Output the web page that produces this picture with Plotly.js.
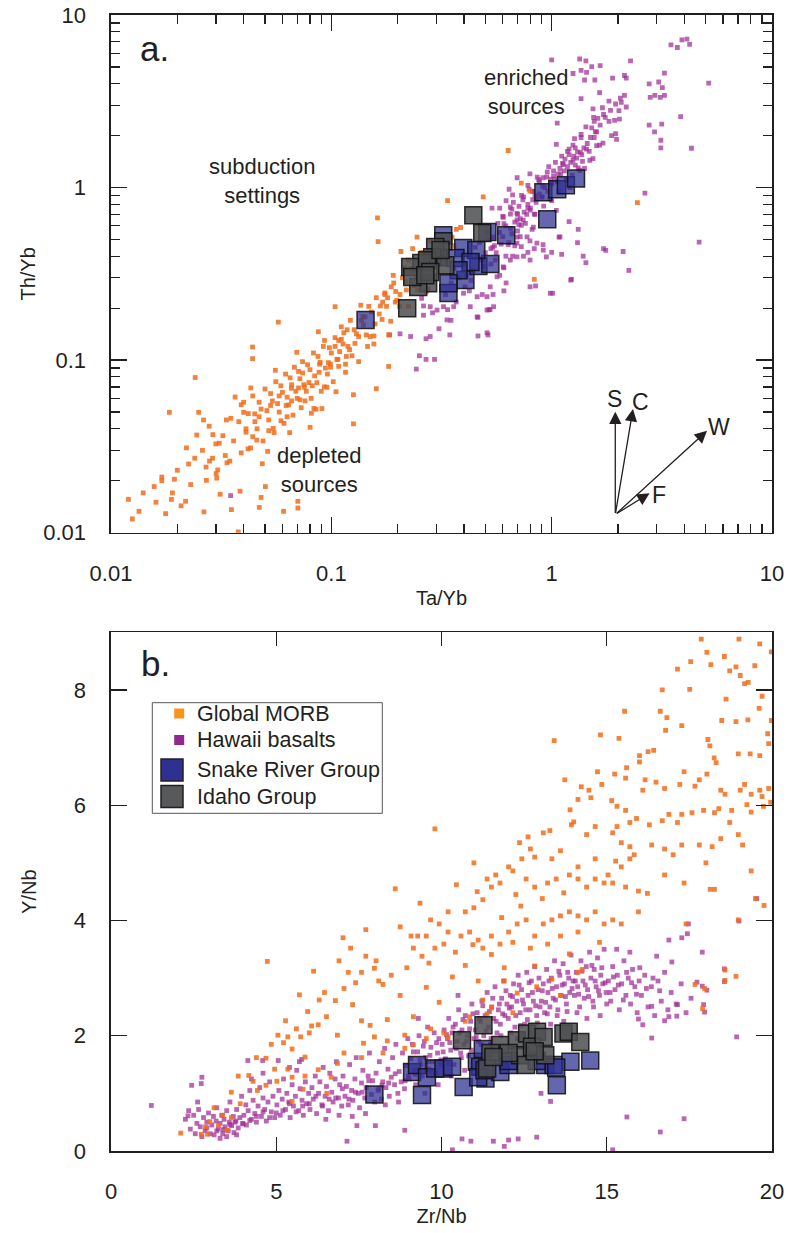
<!DOCTYPE html>
<html><head><meta charset="utf-8">
<script src="https://cdn.plot.ly/plotly-3.0.1.min.js"></script>
<style>html,body{margin:0;padding:0;background:#fff}#chart{width:788px;height:1233px}</style>
</head><body><div id="chart"></div>
<script>
// ---------- Panel a: Ta/Yb (x) vs Th/Yb (y) ----------
const morbTop = [[0.0120,0.0156],[0.0134,0.0133],[0.0157,0.0185],[0.0170,0.0200],[0.0177,0.0129],[0.0184,0.0498],[0.0188,0.0156],[0.0194,0.0204],[0.0208,0.0143],[0.0218,0.0152],[0.0225,0.0250],[0.0241,0.0793],[0.0245,0.0368],[0.0250,0.0498],[0.0263,0.0450],[0.0264,0.0132],[0.0271,0.0201],[0.0279,0.0414],[0.0289,0.0270],[0.0299,0.0327],[0.0302,0.0207],[0.0305,0.0231],[0.0313,0.0167],[0.0322,0.0365],[0.0334,0.0450],[0.0336,0.0254],[0.0346,0.0260],[0.0352,0.0136],[0.0366,0.0611],[0.0378,0.0101],[0.0385,0.0174],[0.0390,0.0551],[0.0400,0.0498],[0.0410,0.0382],[0.0419,0.0306],[0.0431,0.0690],[0.0439,0.119],[0.0439,0.102],[0.0449,0.0488],[0.0459,0.0344],[0.0471,0.0140],[0.0480,0.0160],[0.0486,0.0251],[0.0502,0.0185],[0.0514,0.0296],[0.0530,0.0546],[0.0545,0.0402],[0.0557,0.0873],[0.0575,0.166],[0.0591,0.0445],[0.0607,0.0133],[0.0624,0.0546],[0.0647,0.0380],[0.0659,0.0687],[0.0697,0.111],[0.0705,0.0152],[0.0705,0.0139],[0.0721,0.0589],[0.0741,0.0842],[0.0755,0.0697],[0.0791,0.0741],[0.0801,0.0408],[0.0812,0.0492],[0.0834,0.0524],[0.0853,0.0519],[0.0873,0.146],[0.0885,0.0947],[0.0906,0.0524],[0.0931,0.130],[0.0955,0.0697],[0.0969,0.0967],[0.0991,0.0910],[0.104,0.120],[0.104,0.204],[0.105,0.0656],[0.107,0.101],[0.108,0.130],[0.111,0.156],[0.114,0.144],[0.116,0.0947],[0.119,0.120],[0.122,0.170],[0.126,0.0630],[0.126,0.0427],[0.133,0.137],[0.136,0.208],[0.139,0.179],[0.146,0.120],[0.150,0.137],[0.156,0.124],[0.160,0.0683],[0.162,0.667],[0.163,0.486],[0.167,0.206],[0.171,0.217],[0.175,0.240],[0.182,0.140],[0.182,0.0919],[0.187,0.266],[0.191,0.310],[0.195,0.217],[0.205,0.240],[0.207,0.426],[0.214,0.343],[0.224,0.380],[0.234,0.443],[0.245,0.516],[0.257,0.421],[0.281,0.491],[0.337,0.839],[0.353,0.516],[0.369,0.572],[0.386,0.587],[0.489,0.883],[0.635,1.64],[0.728,1.06],[0.797,0.953],[0.834,0.294],[2.45,0.818],
[0.031,0.033],[0.033,0.028],[0.035,0.046],[0.036,0.034],[0.038,0.044],[0.039,0.029],[0.040,0.057],[0.041,0.040],[0.042,0.049],[0.043,0.031],[0.044,0.062],[0.045,0.044],[0.046,0.040],[0.047,0.057],[0.048,0.052],[0.049,0.034],[0.050,0.068],[0.051,0.051],[0.052,0.045],[0.053,0.064],[0.054,0.058],[0.055,0.038],[0.056,0.075],[0.057,0.056],[0.058,0.050],[0.059,0.071],[0.060,0.065],[0.061,0.043],[0.062,0.083],[0.063,0.061],[0.064,0.055],[0.065,0.079],[0.066,0.072],[0.067,0.048],[0.068,0.091],[0.069,0.066],[0.070,0.060],[0.071,0.086],[0.072,0.078],[0.073,0.053],[0.074,0.098],[0.075,0.072],[0.077,0.066],[0.078,0.094],[0.080,0.088],[0.081,0.060],[0.083,0.110],[0.084,0.081],[0.086,0.074],[0.087,0.105],[0.089,0.097],[0.090,0.066],[0.092,0.120],[0.094,0.090],[0.096,0.083],[0.098,0.118],[0.100,0.110],[0.102,0.075],[0.104,0.135],[0.106,0.101],[0.108,0.092],[0.111,0.132],[0.113,0.124],[0.116,0.085],[0.118,0.150],[0.121,0.115],[0.124,0.106],[0.127,0.150],[0.130,0.142],[0.133,0.098],[0.137,0.170],[0.140,0.160],[0.144,0.140],[0.148,0.205],[0.152,0.190],[0.156,0.138],[0.160,0.230],[0.165,0.185],[0.170,0.172],[0.175,0.245],[0.180,0.230],[0.186,0.168],[0.192,0.280],[0.198,0.222],[0.204,0.205],[0.210,0.300],[0.217,0.285],[0.224,0.205],[0.231,0.340],[0.238,0.270],[0.246,0.255],[0.254,0.370],[0.262,0.345],[0.270,0.250],[0.279,0.410],[0.288,0.330],[0.298,0.310],[0.308,0.450],[0.320,0.420],[0.332,0.370],[0.345,0.500],[0.360,0.460],[0.028,0.026],[0.029,0.037],[0.030,0.022],[0.026,0.030],[0.027,0.024],[0.024,0.027],[0.023,0.019],[0.022,0.031],[0.020,0.023],[0.019,0.017],[0.017,0.021],[0.016,0.015],[0.014,0.017],[0.0125,0.012],
[0.044,0.036],[0.047,0.047],[0.052,0.039],[0.058,0.062],[0.063,0.047],[0.066,0.058],[0.071,0.069],[0.076,0.058],[0.082,0.071],[0.088,0.085],[0.093,0.070],[0.099,0.095],[0.109,0.112],[0.117,0.105],[0.128,0.125],[0.142,0.178],[0.158,0.162],[0.178,0.205],[0.196,0.250],[0.219,0.255],[0.242,0.300],[0.267,0.300],[0.295,0.390]];

const hawTop = [[3.48,6.71],[3.90,7.18],[4.11,7.25],[4.23,6.75],[3.72,6.48],[2.28,5.42],[1.00,5.50],[1.34,5.56],[1.43,5.42],[1.36,4.77],[1.44,4.65],[1.52,5.02],[1.66,5.09],[1.25,4.58],[1.41,4.20],[1.57,4.20],[1.89,4.31],[2.14,4.46],[2.18,4.31],[3.25,4.60],[3.06,4.09],[2.77,3.99],[2.94,3.42],[3.18,3.79],[3.11,3.33],[2.80,3.33],[3.25,3.42],[5.16,4.03],[1.65,3.55],[2.14,3.42],[1.82,3.17],[2.07,3.12],[2.18,2.93],[2.02,2.79],[1.36,3.28],[1.54,2.86],[1.06,2.36],[1.56,2.42],[1.72,2.65],[1.82,2.42],[1.93,2.45],[2.03,2.49],[2.77,2.30],[3.16,2.33],[3.85,2.58],[2.93,2.10],[3.13,1.88],[3.13,1.70],[4.31,1.69],[1.36,2.03],[1.56,1.95],[1.60,2.10],[1.65,1.76],[1.71,1.81],[1.87,2.00],[1.95,2.05],[1.97,1.90],[1.05,1.78],[1.20,1.67],[1.25,1.76],[1.31,1.61],[1.37,1.55],[1.44,1.67],[1.49,1.44],[1.54,1.47],[1.09,1.29],[1.13,1.36],[1.25,1.44],[1.28,1.35],[1.34,1.26],[1.41,1.29],[1.02,1.17],[0.955,1.23],[0.914,1.14],[0.873,1.11],[1.00,1.06],[1.17,1.11],[1.21,1.00],[0.797,1.20],[0.697,1.14],[0.780,1.03],[0.815,0.953],[0.853,0.861],[0.906,0.883],[1.00,0.839],[0.641,0.978],[0.665,0.906],[0.745,0.883],[0.621,0.839],[0.711,0.778],[0.780,0.759],[0.834,0.702],[0.581,0.759],[0.650,0.702],[0.697,0.650],[0.607,0.618],[0.728,0.603],[0.815,0.572],[0.797,0.491],[0.697,0.516],[0.635,0.467],[0.728,0.455],[0.834,0.443],[0.914,0.467],[0.665,0.400],[0.745,0.400],[0.780,0.421],[0.542,0.516],[0.530,0.443],[0.555,0.380],[0.607,0.343],[0.581,0.310],[0.621,0.280],[0.607,0.252],[0.542,0.240],[0.484,0.240],[0.519,0.196],[0.463,0.177],[0.404,0.266],[0.423,0.252],[0.330,0.240],[0.369,0.217],[0.337,0.196],[0.308,0.152],[0.345,0.140],[0.281,0.137],[0.269,0.133],[0.251,0.106],[0.269,0.101],[0.294,0.101],[0.243,0.0887],[1.05,0.738],[1.20,0.634],[1.08,0.516],[1.31,0.479],[1.32,0.572],[1.72,0.443],[1.76,0.432],[2.11,0.426],[2.24,0.331],[1.23,0.294],[1.11,0.410],[1.00,0.421],[0.946,0.396],[1.01,0.244],[1.39,0.400],[1.43,0.367],[4.67,0.483],[2.65,0.929],[0.845,0.269],[0.463,0.138],[0.514,0.140],[0.525,0.196],[0.349,0.170],[0.288,0.188],[0.229,0.137],[0.205,0.142],[0.184,0.140],[0.257,0.228],[0.262,0.206],[0.275,0.259],[0.0349,0.0164],
[0.649,0.769],[0.696,0.708],[0.798,0.739],[0.603,0.673],[0.536,0.760],[0.743,0.647],[0.826,0.589],[0.773,0.518],[0.696,0.476],[0.857,0.476],[0.916,0.434],[0.696,0.397],[0.798,0.380],[0.603,0.347],[0.649,0.380],[0.565,0.304],[0.526,0.266],[0.509,0.233],[0.459,0.233],[0.398,0.244],[0.427,0.204],[0.509,0.195],[0.459,0.178],[0.359,0.204],[0.323,0.204],[0.302,0.195],[0.281,0.204],[0.262,0.182],[0.335,0.171],[0.509,0.144],[0.545,0.204],[1.09,0.518],[1.22,0.291],[0.986,0.244],[0.798,0.266],
[0.42,0.40],[0.45,0.45],[0.48,0.38],[0.44,0.33],[0.50,0.42],[0.40,0.36],[0.47,0.48],[0.52,0.50],[0.55,0.46],[0.58,0.55],[0.60,0.52],[0.62,0.60],[0.65,0.58],[0.68,0.63],[0.70,0.70],[0.72,0.66],[0.75,0.72],[0.78,0.80],[0.80,0.76],[0.82,0.85],[0.85,0.82],[0.88,0.92],[0.90,0.88],[0.93,1.00],[0.96,0.95],[1.00,1.05],[1.03,1.12],[1.06,1.08],[1.10,1.20],[1.14,1.25],[1.18,1.32],[1.22,1.40],[1.26,1.52],[1.30,1.48],[1.35,1.60],[1.40,1.70],[1.45,1.80],[1.50,1.95],[1.58,2.10],[1.66,2.30],[1.75,2.55],[1.85,2.80],[1.95,3.05],[2.05,3.30],[0.64,0.48],[0.70,0.56],[0.76,0.62],[0.84,0.70],[0.92,0.78],[0.98,0.86],[1.08,0.95],[0.60,0.68],[0.66,0.75],[0.74,0.85],[0.82,0.95],[0.88,1.08],[0.95,1.15],[1.02,1.25],[1.12,1.38],[0.56,0.42],[0.53,0.36],[0.62,0.40],[0.68,0.46],[0.72,0.52],[1.16,1.10],[1.24,1.18],[1.32,1.30],[1.20,1.55],[1.28,1.70],[1.38,1.42],[1.48,1.62],[1.60,1.75],[0.86,1.15],[0.79,0.98],[0.73,0.90],[0.67,0.82],[0.57,0.62],[0.51,0.55],[0.46,0.40],[0.38,0.30],[0.35,0.28],[0.41,0.31],[0.36,0.34],
[0.97,1.32],[1.04,1.40],[1.11,1.52],[1.18,1.62],[1.15,1.46],[1.07,1.20],[0.99,1.12],[0.91,1.02],[0.84,0.90],[0.77,0.70],[0.71,0.61],[0.66,0.54],[0.59,0.47],[0.54,0.45],[0.49,0.35],[0.43,0.29],[1.27,1.92],[1.36,1.95],[1.43,2.25],[1.55,2.55],[1.70,2.90],[1.62,2.52],[1.52,2.22]];

const srgTop = [[0.143,0.171],[0.340,0.245],[0.406,0.291],[0.465,0.351],[0.527,0.360],[0.322,0.530],[0.397,0.446],[0.455,0.434],[0.511,0.552],[0.622,0.530],[0.955,0.656],[0.917,0.940],[1.06,0.979],[1.16,1.03],[1.29,1.13],[0.366,0.390],[0.428,0.370],[0.378,0.332],[0.305,0.395],[0.340,0.279]];
const idgTop = [[0.441,0.692],[0.484,0.545],[0.322,0.489],[0.296,0.452],[0.287,0.395],[0.256,0.365],[0.228,0.346],[0.275,0.279],[0.248,0.265],[0.221,0.200],[0.272,0.379],[0.329,0.355],[0.281,0.324],[0.233,0.303],[0.313,0.434],[0.267,0.310]];

// ---------- Panel b: Zr/Nb (x) vs Y/Nb (y) ----------
const morbBot = [[17.86,8.88],[19.00,8.88],[19.63,8.80],[19.98,8.66],[18.03,8.65],[17.54,8.49],[17.14,8.36],[18.15,8.44],[18.56,8.58],[18.91,8.40],[18.72,8.33],[19.04,8.25],[19.17,8.11],[19.48,8.42],[19.28,8.13],[16.68,8.00],[17.51,8.01],[19.70,7.89],[19.61,7.68],[18.61,7.84],[15.54,7.63],[16.62,7.63],[16.82,7.52],[17.27,7.38],[18.48,7.47],[18.91,7.45],[19.27,7.48],[19.98,7.47],[14.81,7.22],[15.37,7.16],[13.41,7.12],[16.78,7.30],[18.06,7.14],[18.12,7.03],[18.25,6.82],[18.31,6.74],[18.98,6.89],[19.34,6.89],[19.63,6.86],[19.90,7.07],[19.87,7.24],[15.99,6.86],[16.25,6.93],[16.42,6.95],[15.60,6.65],[15.99,6.75],[14.72,6.58],[15.24,6.54],[15.57,6.47],[13.73,6.44],[14.13,6.10],[14.46,6.26],[14.23,6.32],[14.52,6.13],[13.89,5.92],[14.85,6.36],[15.15,6.08],[15.31,5.98],[15.57,5.91],[16.09,6.26],[16.16,6.44],[16.49,6.40],[16.75,6.29],[17.21,6.36],[17.34,6.58],[17.67,6.33],[17.80,6.44],[18.03,6.54],[18.45,6.26],[18.58,6.19],[19.04,6.26],[19.17,6.36],[19.37,6.19],[19.63,6.26],[19.70,6.15],[19.90,6.29],[19.96,6.05],[19.74,5.98],[19.24,6.01],[18.78,5.91],[18.39,5.94],[18.26,5.87],[17.93,5.91],[17.58,5.87],[17.27,5.84],[17.14,5.70],[16.88,5.84],[16.68,5.73],[16.29,5.66],[15.90,5.77],[15.70,5.70],[15.31,5.63],[15.18,5.52],[14.65,5.63],[14.39,5.49],[14.00,5.71],[13.93,5.66],[13.28,5.56],[13.08,5.52],[12.62,5.45],[12.36,5.35],[12.69,5.24],[9.80,5.59],[15.44,5.35],[15.70,5.28],[15.83,5.14],[16.36,5.31],[16.75,5.24],[17.01,5.14],[17.27,5.31],[17.80,5.31],[18.19,5.28],[18.45,5.42],[18.72,5.70],[18.98,5.49],[19.11,5.31],[19.37,5.88],[15.27,5.03],[15.04,4.79],[15.44,4.93],[15.70,5.07],[14.65,5.07],[14.13,4.93],[13.60,5.21],[13.34,5.07],[12.82,5.10],[12.43,5.07],[12.03,4.93],[11.64,4.79],[10.98,5.00],[11.38,4.72],[11.77,4.65],[12.16,4.86],[12.56,4.72],[12.82,4.58],[13.21,4.65],[13.47,4.72],[13.87,4.79],[14.13,4.72],[14.39,4.58],[14.65,4.72],[14.92,4.65],[15.18,4.65],[15.57,4.58],[15.96,4.51],[16.23,4.47],[16.75,4.79],[17.34,4.65],[18.00,5.00],[18.13,4.54],[18.26,4.54],[19.37,4.86],[19.50,4.38],[19.76,4.26],[18.98,4.01],[18.58,2.96],[18.58,3.14],[18.91,3.03],[17.96,2.82],[17.90,2.47],[17.40,3.94],[17.67,2.89],[11.51,4.58],[11.25,4.36],[10.98,4.22],[10.72,4.15],[10.20,4.15],[9.93,3.94],[9.67,4.01],[9.54,3.73],[9.28,3.73],[9.15,3.52],[9.41,3.38],[9.80,3.52],[10.07,3.59],[10.20,3.80],[10.59,3.73],[10.85,3.80],[11.11,3.66],[11.25,3.52],[11.51,3.73],[11.77,3.59],[12.03,3.80],[12.29,3.94],[12.56,4.01],[12.82,3.73],[13.08,3.94],[13.34,4.01],[13.60,4.08],[13.87,4.15],[14.13,4.08],[14.39,4.01],[14.65,4.15],[14.92,3.94],[15.18,4.01],[15.44,3.94],[15.96,4.15],[14.13,3.80],[13.60,3.73],[13.21,3.59],[12.69,3.52],[12.16,3.62],[11.90,3.18],[11.51,3.41],[11.11,2.95],[10.72,3.22],[10.33,3.02],[9.93,2.58],[9.54,2.84],[9.15,2.33],[8.75,2.70],[8.36,2.28],[8.10,2.95],[7.84,2.18],[7.58,2.26],[7.31,2.54],[7.05,2.82],[7.02,3.70],[7.71,3.84],[7.25,3.52],[8.75,3.89],[9.08,3.73],[8.23,2.89],[7.97,3.17],[7.71,3.38],[7.58,3.10],[7.18,3.10],[6.79,2.61],[6.52,2.33],[6.27,2.19],[6.00,2.05],[5.74,1.98],[5.48,1.77],[5.22,1.88],[4.95,1.42],[4.69,1.61],[4.43,1.05],[4.17,1.31],[3.91,0.82],[3.64,1.02],[3.38,0.62],[3.12,0.75],[2.86,0.42],[2.73,0.29],[2.11,0.31],[4.73,3.29],[6.13,3.12],[5.70,2.71],[6.46,2.75],[5.28,2.26],[5.05,2.01],[5.61,2.12],[6.07,2.17],[6.85,2.01],[5.87,1.63],[5.35,1.42],[5.02,1.21],[4.30,1.21],[3.64,0.58],[3.25,0.44],[3.51,0.36],[2.99,0.51],[2.92,0.29],[6.53,1.00],[7.05,1.70],[7.64,1.87],[7.97,1.98],[8.36,1.91],[8.89,2.01],[9.15,1.84],[9.67,2.12],[10.20,1.98],[10.85,2.33],[11.25,2.62],[11.51,2.48],[11.90,2.95],[12.29,2.74],[12.82,3.21],[13.34,2.98],[13.87,3.42],[14.26,3.15],[14.78,3.62],[14.13,3.10],[13.60,2.70],[12.88,2.85],[12.16,2.40],[11.38,2.38],[10.72,2.25],[10.07,2.05],[9.54,1.95],[8.89,1.78],[8.23,1.70],[7.58,1.62],[6.85,1.52],[6.27,1.41],[5.87,1.30],[5.48,1.28],[5.81,1.07],[6.66,1.28],[4.69,1.14],[5.48,0.86],
[8.02,3.30],[8.48,3.05],[8.95,3.18],[9.62,3.26],[10.42,3.45],[10.95,3.58],[11.82,4.05],[12.40,4.25],[13.05,4.38],[13.70,4.48],[12.25,4.45],[11.08,4.50],[10.45,4.62],[9.35,4.30],[8.60,4.55],[7.40,2.92],[6.90,3.30],[6.30,2.62],[5.95,2.42],[5.35,1.98],[4.85,1.85],[4.40,1.62],[3.85,1.30]];

const hawBot = [[1.22,0.79],[2.44,1.14],[2.75,1.28],[2.73,1.17],[2.33,0.61],[4.14,1.57],[4.59,1.57],[5.06,1.57],[5.77,1.59],[10.33,0.02],[10.62,0.21],[10.89,0.17],[11.57,0.17],[12.03,0.19],[12.32,0.21],[12.88,0.24],[11.90,0.08],[15.18,0.02],[15.61,0.59],[16.62,0.33],[17.34,0.56],[16.36,1.96],[18.93,1.98],[19.00,3.99],[19.54,4.38],[18.56,3.16],[18.56,2.94],[17.93,2.54],[17.96,2.41],[17.89,2.86],[17.73,2.93],[18.03,2.79],[17.47,3.94],[17.44,3.77],[17.27,3.70],[16.88,3.66],[16.97,3.28],[17.89,3.45],[16.51,3.38],[16.36,2.51],[16.88,2.33],[17.14,2.54],[17.12,2.34],[16.75,2.26],[16.09,2.19],[15.96,2.29],[13.30,0.86],[13.01,1.00],[8.89,0.36],[8.00,0.44],[7.14,0.17],[7.44,0.44],
[2.25,0.55],[2.40,0.38],[2.50,0.62],[2.55,0.30],[2.60,0.48],[2.65,0.72],[2.70,0.42],[2.75,0.25],[2.80,0.58],[2.85,0.35],[2.90,0.50],[2.95,0.66],[3.00,0.30],[2.62,0.85],[2.35,0.70],
[3.05,0.45],[3.10,0.60],[3.12,0.28],[3.18,0.52],[3.20,0.75],[3.25,0.38],[3.30,0.48],[3.35,0.62],[3.38,0.30],[3.42,0.55],[3.45,0.42],[3.50,0.70],[3.55,0.35],[3.58,0.50],[3.60,0.85],[3.65,0.44],[3.70,0.60],[3.72,0.32],[3.78,0.52],[3.80,0.72],[3.85,0.40],[3.90,0.58],[3.95,0.95],[3.98,0.48],[3.30,0.22],[3.50,0.25],[3.80,0.28],
[4.02,0.62],[4.08,0.80],[4.10,0.45],[4.15,0.70],[4.20,1.05],[4.25,0.55],[4.30,0.88],[4.35,0.65],[4.40,0.50],[4.45,0.78],[4.50,1.10],[4.55,0.60],[4.60,0.92],[4.65,0.72],[4.70,0.52],[4.75,0.85],[4.80,1.20],[4.85,0.68],[4.90,0.95],[4.95,0.58],[4.25,1.25],[4.60,1.35],
[5.02,0.80],[5.08,1.05],[5.12,0.62],[5.18,0.90],[5.22,1.25],[5.28,0.72],[5.32,1.00],[5.38,0.85],[5.42,0.58],[5.48,1.15],[5.52,0.78],[5.58,0.95],[5.62,1.40],[5.68,0.70],[5.72,1.08],[5.78,0.88],[5.82,0.62],[5.88,1.20],[5.92,0.82],[5.98,1.00],[5.40,1.45],[5.70,1.55],
[6.02,0.72],[6.08,1.10],[6.12,0.90],[6.18,1.30],[6.22,0.65],[6.28,1.00],[6.32,1.20],[6.38,0.80],[6.42,1.45],[6.48,0.95],[6.52,1.12],[6.58,0.70],[6.62,1.35],[6.68,1.02],[6.72,0.85],[6.78,1.25],[6.82,1.55],[6.88,0.92],[6.92,1.15],[6.98,0.78],[6.50,0.55],[6.90,0.62],
[7.02,1.30],[7.08,0.95],[7.12,1.12],[7.18,0.80],[7.22,1.50],[7.28,1.05],[7.32,0.88],[7.38,1.25],[7.42,1.62],[7.48,1.00],[7.52,0.75],[7.58,1.18],[7.62,1.40],[7.68,0.92],[7.72,1.10],[7.78,1.30],[7.82,1.70],[7.88,0.98],[7.92,1.22],[7.98,0.85],[7.30,0.60],[7.70,0.65],
[8.02,1.35],[8.08,1.05],[8.12,1.55],[8.18,0.90],[8.22,1.20],[8.28,1.78],[8.32,1.10],[8.38,1.42],[8.42,0.95],[8.48,1.28],[8.52,1.62],[8.58,1.15],[8.62,1.85],[8.68,1.00],[8.72,1.38],[8.78,1.20],[8.82,1.70],[8.88,1.08],[8.92,1.48],[8.98,1.95],[8.30,0.80],[8.70,0.85],
[9.02,1.25],[9.08,1.60],[9.12,1.85],[9.18,1.40],[9.22,1.15],[9.28,1.72],[9.32,2.00],[9.38,1.50],[9.42,1.30],[9.48,1.90],[9.52,1.62],[9.58,2.15],[9.62,1.42],[9.68,1.80],[9.72,1.55],[9.78,2.05],[9.82,1.35],[9.88,1.70],[9.92,1.95],[9.98,1.58],[9.50,1.00],[9.90,1.15],[9.30,2.30],
[10.02,1.85],[10.08,2.10],[10.12,1.60],[10.18,1.95],[10.22,2.30],[10.28,1.75],[10.32,2.05],[10.38,1.50],[10.42,2.20],[10.48,1.90],[10.52,2.45],[10.58,1.70],[10.62,2.10],[10.68,1.85],[10.72,2.35],[10.78,2.00],[10.82,1.65],[10.88,2.25],[10.92,2.55],[10.98,1.95],[10.30,1.30],[10.70,1.40],[10.50,2.70],
[11.02,2.10],[11.08,2.40],[11.12,1.90],[11.18,2.25],[11.22,2.60],[11.28,2.00],[11.32,2.35],[11.38,2.75],[11.42,2.15],[11.48,1.85],[11.52,2.50],[11.58,2.30],[11.62,2.85],[11.68,2.05],[11.72,2.45],[11.78,2.20],[11.82,2.65],[11.88,2.95],[11.92,2.35],[11.98,2.55],[11.30,1.60],[11.70,1.75],
[12.02,2.30],[12.08,2.70],[12.12,2.50],[12.18,2.90],[12.22,2.15],[12.28,2.60],[12.32,3.05],[12.38,2.40],[12.42,2.80],[12.48,2.55],[12.52,2.20],[12.58,3.10],[12.62,2.70],[12.68,2.45],[12.72,2.95],[12.78,2.60],[12.82,3.20],[12.88,2.35],[12.92,2.80],[12.98,2.50],[12.30,1.95],[12.70,2.05],
[13.02,2.60],[13.08,2.90],[13.12,2.40],[13.18,3.15],[13.22,2.75],[13.28,2.50],[13.32,3.00],[13.38,2.65],[13.42,3.30],[13.48,2.85],[13.52,2.45],[13.58,3.05],[13.62,2.70],[13.68,3.25],[13.72,2.90],[13.78,2.55],[13.82,3.10],[13.88,2.75],[13.92,3.40],[13.98,2.95],[13.30,2.20],[13.70,2.25],
[14.02,2.70],[14.08,3.10],[14.12,2.85],[14.18,2.50],[14.22,3.30],[14.28,2.95],[14.32,2.65],[14.38,3.20],[14.42,2.80],[14.48,3.45],[14.52,3.00],[14.58,2.60],[14.62,3.15],[14.68,2.85],[14.72,3.35],[14.78,2.70],[14.82,3.05],[14.88,2.90],[14.92,3.50],[14.98,2.75],[14.40,2.30],[14.80,2.35],
[15.05,2.95],[15.12,2.60],[15.18,3.20],[15.25,2.80],[15.32,3.05],[15.38,2.45],[15.45,2.90],[15.52,3.30],[15.58,2.70],[15.65,3.00],[15.72,2.55],[15.78,3.15],[15.85,2.85],[15.92,2.40],[15.98,2.95],[15.30,3.50],[15.70,3.45],
[16.05,2.70],[16.15,3.05],[16.25,2.50],[16.35,2.85],[16.45,2.35],[16.55,2.95],[16.65,2.60],[16.75,3.10],[16.85,2.45],[16.95,2.75],[17.10,2.55],[17.25,2.90],[17.40,2.40],[17.55,2.65],
[9.15,1.72],[9.35,1.58],[9.45,1.82],[9.65,1.66],[9.85,1.88],[10.05,1.72],[10.15,2.02],[10.25,1.88],[10.35,2.15],[10.45,1.78],[10.55,2.05],[10.65,2.28],[10.75,1.90],[10.85,2.12],[10.95,2.38],[11.05,1.98],[11.15,2.30],[11.25,2.52],[11.35,2.08],[11.45,2.42],[11.55,2.65],[11.65,2.25],[11.75,2.55],[11.85,2.38],[11.95,2.78],[12.05,2.48],[12.15,2.68],[12.25,2.35],[12.35,2.88],[12.45,2.62],[12.55,2.45],[12.65,2.92],[12.75,2.75],[12.85,2.52],[12.95,3.00],[13.05,2.78],[13.15,2.58],[13.25,2.95],[13.35,2.82],[13.45,2.62],[13.55,3.12],[13.65,2.88],[13.75,2.68],[13.85,3.00],[13.95,2.82],[14.05,2.95],[14.15,2.72],[14.25,3.12],[14.35,2.88],[14.45,2.68],[14.55,3.22],[14.65,2.95],[14.75,2.78],[14.85,3.18],[14.95,2.92],[15.10,2.75],[15.20,3.02],[15.35,2.88],[15.50,2.62],[15.60,3.10],[15.75,2.92],[15.90,2.72],[16.00,3.18],[16.20,2.82],[16.40,3.00],[16.60,2.78],[12.10,2.05],[12.40,2.18],[12.60,2.28],[12.90,2.22],[13.20,2.38],[13.50,2.35],[13.80,2.42],[14.10,2.40],[14.60,2.50],[15.00,2.55],[10.90,1.75],[11.20,1.85],[11.50,1.95],[11.80,2.00],[10.60,1.62],[10.20,1.52],[9.70,1.38],[9.20,1.33],[8.90,1.22],[8.40,1.18],[8.10,1.08],[7.60,1.02],[7.20,0.90],[6.80,0.92],[6.40,0.78],[6.00,0.82],[5.60,0.68],[5.20,0.70],[4.80,0.58],[4.40,0.60],[4.00,0.47],[3.60,0.46],[3.20,0.35],[2.90,0.40],[3.40,0.37],[3.75,0.50],[4.20,0.53],[4.60,0.68],[5.00,0.66],[5.40,0.82],[5.80,0.78],[6.20,0.95],[6.60,0.90],[7.00,1.08],[7.40,1.02],[7.80,1.22],[8.20,1.14],[8.60,1.34],[9.00,1.30],[9.60,1.55],[10.00,1.50]];

const srgBot = [[7.97,0.98],[9.11,1.37],[9.26,1.49],[9.41,0.97],[9.56,1.28],[9.81,1.43],[10.06,1.43],[10.32,1.46],[10.67,1.11],[11.07,1.55],[11.17,1.46],[11.33,1.26],[11.25,1.77],[11.78,1.37],[12.03,1.49],[12.03,1.56],[13.14,1.49],[13.39,1.49],[13.49,1.14],[13.90,1.55],[14.50,1.57],[11.11,1.28],[12.88,1.56],[13.47,1.45],[11.30,1.40]];
const idgBot = [[10.62,1.92],[11.27,2.18],[11.78,1.84],[11.48,1.70],[11.38,1.43],[12.28,1.92],[12.59,2.04],[12.89,2.07],[12.38,1.66],[12.74,1.81],[13.09,1.98],[13.14,1.66],[13.69,2.04],[13.85,2.07],[14.20,1.89],[12.56,1.49],[12.03,1.70],[12.82,1.73],[11.57,1.63]];

// ---------- ticks / labels ----------
const logTickVals = [0.01, 0.1, 1, 10];
const logTickText = ['0.01', '0.1', '1', '10'];
const logMinorVals = [0.02,0.03,0.04,0.05,0.06,0.07,0.08,0.09,0.2,0.3,0.4,0.5,0.6,0.7,0.8,0.9,2,3,4,5,6,7,8,9];
const zrNbTicks = [0, 5, 10, 15, 20];
const yNbTicks = [0, 2, 4, 6, 8];
const seriesNames = ['Global MORB', 'Hawaii basalts', 'Snake River Group', 'Idaho Group'];

// ---------- styling ----------
const INK = '#231f20';
const FONT = 'Liberation Sans, Arial, Helvetica, sans-serif';
const morbColor = 'rgba(240,108,26,0.85)';
const hawColor = 'rgba(160,45,150,0.72)';
const srgColor = 'rgba(46,49,146,0.74)';
const idgColor = 'rgba(78,79,81,0.86)';
const bigLine = {color: 'rgba(15,15,15,0.85)', width: 1.5};
const legendSwatch = ['#f7941d', '#92278f', '#2e3192', '#58595b'];
const xs = a => a.map(p => p[0]);
const ys = a => a.map(p => p[1]);

function smallTrace(data, color, xa, ya, name) {
  return {type: 'scatter', mode: 'markers', x: xs(data), y: ys(data), xaxis: xa, yaxis: ya,
    name: name, showlegend: false, hoverinfo: 'skip',
    marker: {symbol: 'square', size: 4.8, color: color, line: {width: 0}}};
}
function bigTrace(data, color, xa, ya, name) {
  return {type: 'scatter', mode: 'markers', x: xs(data), y: ys(data), xaxis: xa, yaxis: ya,
    name: name, showlegend: false, hoverinfo: 'skip',
    marker: {symbol: 'square', size: 17, color: color, line: bigLine}};
}

const traces = [
  smallTrace(hawTop, hawColor, 'x', 'y', seriesNames[1]),
  smallTrace(morbTop, morbColor, 'x', 'y', seriesNames[0]),
  bigTrace(srgTop, srgColor, 'x', 'y', seriesNames[2]),
  bigTrace(idgTop, idgColor, 'x', 'y', seriesNames[3]),
  smallTrace(hawBot, hawColor, 'x2', 'y2', seriesNames[1]),
  smallTrace(morbBot, morbColor, 'x2', 'y2', seriesNames[0]),
  bigTrace(srgBot, srgColor, 'x2', 'y2', seriesNames[2]),
  bigTrace(idgBot, idgColor, 'x2', 'y2', seriesNames[3])
];

const frame = {showline: true, linecolor: INK, linewidth: 1.6, mirror: 'allticks',
  ticks: 'inside', tickcolor: INK, tickwidth: 1.3, showgrid: false, zeroline: false,
  tickfont: {family: FONT, size: 22, color: INK}};
const logMinor = {tickmode: 'array', tickvals: logMinorVals, ticks: 'inside', ticklen: 9,
  tickwidth: 1.3, tickcolor: INK, showgrid: false};
const titleFont = {family: FONT, size: 20, color: INK};

// Legend box (drawn in paper coordinates, as in the original figure)
const PX = v => (v - 111) / 661, PY = v => (1151 - v) / 1136;
const legendRows = [713.5, 740, 770, 796.5];
const legendSizes = [10, 10, 22, 22];
const shapes = [{type: 'rect', xref: 'paper', yref: 'paper', x0: PX(152.3), x1: PX(382.3), y0: PY(813.3), y1: PY(702.7),
  line: {color: '#555555', width: 1}, fillcolor: '#ffffff', layer: 'above'}];
const legendAnn = [];
seriesNames.forEach((nm, i) => {
  const cx = i < 2 ? 179.2 : 172, h = legendSizes[i] / 2, cy = legendRows[i];
  shapes.push({type: 'rect', xref: 'paper', yref: 'paper', x0: PX(cx - h), x1: PX(cx + h), y0: PY(cy + h), y1: PY(cy - h),
    fillcolor: legendSwatch[i], line: i < 2 ? {width: 0} : {color: INK, width: 1.5}, layer: 'above'});
  legendAnn.push({xref: 'paper', yref: 'paper', x: PX(195), y: PY(cy), xanchor: 'left', yanchor: 'middle',
    text: nm, showarrow: false, font: {family: FONT, size: 21.5, color: INK}});
});

const arrowStyle = {text: '', showarrow: true, arrowhead: 2, arrowsize: 1.9, arrowwidth: 1.3, arrowcolor: INK, standoff: 0,
  xref: 'x domain', yref: 'y domain'};
const label = (x, y, t, size) => ({xref: 'x domain', yref: 'y domain', x: x, y: y, xanchor: 'center', yanchor: 'middle',
  text: t, showarrow: false, font: {family: FONT, size: size, color: INK}});

const layout = {
  width: 788, height: 1233,
  margin: {l: 111, r: 16, t: 15, b: 82},
  paper_bgcolor: '#ffffff', plot_bgcolor: '#ffffff',
  font: {family: FONT, size: 20, color: INK},
  showlegend: false,
  xaxis: Object.assign({}, frame, {domain: [0, 1], anchor: 'y', type: 'log', range: [-2, 1],
    tickmode: 'array', tickvals: logTickVals, ticktext: logTickText, ticklen: 16,
    minor: logMinor, ticklabelstandoff: 20,
    title: {text: 'Ta/Yb', font: titleFont, standoff: 6}}),
  yaxis: Object.assign({}, frame, {domain: [0.5443, 1], anchor: 'x', type: 'log', range: [-2, 1],
    tickmode: 'array', tickvals: logTickVals, ticktext: logTickText, ticklen: 16,
    minor: logMinor, ticklabelstandoff: 19, automargin: 'left',
    title: {text: 'Th/Yb', font: titleFont, standoff: 2}}),
  xaxis2: Object.assign({}, frame, {domain: [0, 1], anchor: 'y2', range: [0, 20],
    tickmode: 'array', tickvals: zrNbTicks, ticklen: 14, ticklabelstandoff: 20,
    title: {text: 'Zr/Nb', font: titleFont, standoff: 6}}),
  yaxis2: Object.assign({}, frame, {domain: [0, 0.4566], anchor: 'x2', range: [0, 9],
    tickmode: 'array', tickvals: yNbTicks, ticklen: 16, ticklabelstandoff: 19, automargin: 'left',
    title: {text: 'Y/Nb', font: titleFont, standoff: 32}}),
  shapes: shapes,
  annotations: [
    {xref: 'x domain', yref: 'y domain', x: 0.041, y: 0.936, xanchor: 'left', yanchor: 'middle',
     text: 'a.', showarrow: false, font: {family: FONT, size: 35, color: INK}},
    {xref: 'x2 domain', yref: 'y2 domain', x: 0.043, y: 0.939, xanchor: 'left', yanchor: 'middle',
     text: 'b.', showarrow: false, font: {family: FONT, size: 35, color: INK}},
    label(0.6275, 0.8517, 'enriched<br>sources', 22),
    label(0.2289, 0.6793, 'subduction<br>settings', 22),
    label(0.3142, 0.1216, 'depleted<br>sources', 22),
    Object.assign({x: 0.7629, y: 0.2336, ax: 0, ay: 102.8}, arrowStyle),
    Object.assign({x: 0.7897, y: 0.2388, ax: -17.7, ay: 105.5}, arrowStyle),
    Object.assign({x: 0.9017, y: 0.1969, ax: -91.7, ay: 83.8}, arrowStyle),
    Object.assign({x: 0.8148, y: 0.0761, ax: -34.3, ay: 21.2}, arrowStyle),
    label(0.7618, 0.2575, 'S', 23),
    label(0.8008, 0.2529, 'C', 23),
    label(0.9192, 0.2046, 'W', 23),
    label(0.8284, 0.0728, 'F', 23)
  ].concat(legendAnn)
};

Plotly.newPlot('chart', traces, layout, {displayModeBar: false, staticPlot: true});
</script>
</body></html>
